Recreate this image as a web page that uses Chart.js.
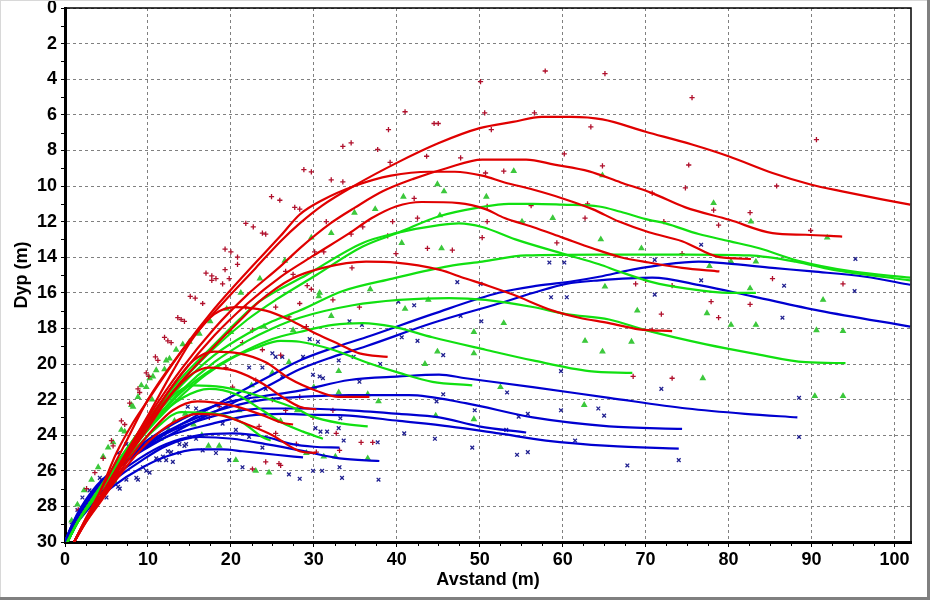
<!DOCTYPE html>
<html><head><meta charset="utf-8">
<script src="https://cdn.jsdelivr.net/npm/chart.js@4.4.1/dist/chart.umd.min.js"></script>
<style>html,body{margin:0;padding:0;background:#fff;}#wrap{width:930px;height:600px;}</style>
</head><body><div id="wrap"><canvas id="c" width="930" height="600"></canvas></div>
<script>
// ---- axis ticks ----
const xTickValues = [0,10,20,30,40,50,60,70,80,90,100];
const yTickValues = [0,2,4,6,8,10,12,14,16,18,20,22,24,26,28,30];
const xTitle = 'Avstand (m)';
const yTitle = 'Dyp (m)';

// ---- red curves ----
const red1 = [[1.1,30],[2.5,28.7],[4.2,27.2],[6.2,25.0],[8.2,23.3],[10.2,21.9],[14.2,19.2],[18.2,17.0],[23,14.6],[26,13.1],[28.3,12.1],[31,11.1],[35,9.95],[40,8.7],[45,7.6],[50,6.75],[54,6.4],[57.5,6.12],[61,6.12],[64.8,6.26],[70,6.95],[75.6,7.67],[80,8.33],[85.3,9.27],[90,9.93],[93.7,10.3],[98.5,10.75],[101.9,11.05]];
const red2 = [[1.1,30],[2.5,28.8],[4.2,27.5],[7,25.3],[10,23.0],[14,20.3],[18,18.0],[22,16.1],[26,14.5],[28.3,13.5],[32,12.1],[35,11.2],[38.3,10.3],[42,9.6],[46,9.0],[50.3,8.52],[55.6,8.52],[59,8.8],[63.2,9.18],[67,9.8],[70.8,10.4],[74.8,11.2],[80.1,11.9],[85.3,12.65],[89.3,12.74],[93.7,12.84]];
const red3 = [[1.1,30],[2.5,28.7],[4.2,27.2],[7,24.7],[10,22.0],[14,19.3],[18,16.9],[22,14.8],[26,12.8],[28.3,11.6],[31,10.8],[34.9,10.0],[39.3,9.42],[44,9.2],[47,9.2],[50.3,9.42],[53,9.8],[56.4,10.2],[60,10.7],[63.6,11.3],[66.8,12.0],[70.4,12.6],[74.4,13.1],[78.9,14.0],[82.7,14.1]];
const red4 = [[1.1,30],[2.5,28.8],[4.2,27.5],[7,25.4],[10,23.2],[14,20.6],[18,18.4],[22,16.6],[26,15.1],[30,13.9],[34.3,12.65],[37,11.8],[39.9,11.15],[43,10.9],[47.5,10.96],[50.7,11.3],[53,11.8],[56.4,12.3],[60,12.9],[63.6,13.5],[67,14.0],[70.4,14.3],[74.4,14.6],[78.9,14.8]];
const red5 = [[1.1,30],[2.5,28.8],[4.2,27.5],[7,25.5],[10,23.4],[14,21.0],[18,19.0],[21,17.6],[23.4,16.5],[27.4,15.2],[31.1,14.6],[36.3,14.25],[39.9,14.3],[45.1,14.7],[48.3,15.2],[51,15.6],[54,16.1],[58.8,17.0],[62,17.4],[65.6,17.7],[69.2,18.05],[73.2,18.15]];
const red6 = [[1.1,30],[2.5,28.8],[4.2,27.5],[7,25.3],[10,22.9],[13,20.4],[15.5,18.5],[18,17.2],[20.6,16.8],[24.2,17.0],[27,17.5],[30.3,18.3],[33.1,18.9],[35.5,19.4],[38.9,19.6]];
const red7 = [[1.1,30],[2.5,28.8],[4.2,27.5],[7,25.4],[10,23.3],[13,21.2],[15.5,19.8],[18,19.3],[21,19.4],[24.2,19.9],[27,20.8],[30.3,21.5],[33,21.85],[36.7,21.85]];
const red8 = [[1.1,30],[2.5,28.8],[4.2,27.6],[7,25.6],[10,23.6],[13,21.6],[15.5,20.5],[17.4,20.2],[20.6,20.4],[23.8,21.1],[26.2,21.85],[28.3,22.4],[30.3,22.55]];
const red9 = [[1.1,30],[2.5,28.9],[4.2,27.7],[7,25.8],[10,24.0],[13,22.6],[16,22.1],[19.8,22.3],[23.4,22.8],[26.2,23.3],[27.5,23.4]];
const red10 = [[1.1,30],[2.5,28.9],[4.2,27.8],[7,26.0],[10,24.4],[13,23.3],[16,22.8],[19,22.9],[22,23.4],[25,24.0],[28.3,24.9],[30.3,25.0]];

// ---- green curves ----
const green1 = [[0.3,30],[1.5,28.9],[3,27.8],[5,26.4],[8,24.4],[11,22.6],[14,21.0],[18,19.1],[22,17.5],[25.4,16.4],[30.3,15.0],[35.9,13.4],[40.3,12.6],[45.1,11.7],[50,11.2],[53.5,11.0],[56.4,11.0],[60,11.05],[64.4,11.15],[67,11.45],[70.4,11.9],[72.4,12.1],[76.4,12.7],[80.1,13.1],[83.7,13.5],[88.4,14.2],[94.9,14.8],[101.9,15.15]];
const green2 = [[0.3,30],[1.5,28.9],[3,27.8],[5,26.4],[8,24.4],[11,22.5],[14,20.8],[18,18.9],[21,17.5],[23.4,16.5],[29.1,15.0],[35.9,13.2],[39.9,12.65],[45.1,12.2],[47.5,12.1],[50.3,12.3],[54.3,13.0],[60,13.8],[64.4,14.4],[66.8,14.8],[70.8,15.4],[74.8,15.75],[80.1,16.0],[83.3,16.0]];
const green3 = [[0.3,30],[1.5,28.9],[3,27.8],[5,26.5],[8,24.6],[11,22.8],[14,21.2],[18,19.5],[22,18.3],[25,17.6],[28.3,17.0],[33.5,15.9],[39.5,15.2],[46.3,14.5],[50.3,14.25],[55.6,13.9],[64.4,13.85],[75,13.85],[82.5,13.9],[88.1,14.25],[92.5,14.7],[101.9,15.3]];
const green4 = [[0.3,30],[1.5,28.9],[3,27.8],[5,26.5],[8,24.7],[11,23.0],[14,21.5],[18,19.9],[22,18.7],[25,18.0],[28.3,17.4],[34.7,16.7],[40.3,16.4],[46.3,16.3],[50.7,16.4],[56.4,16.8],[60.4,17.2],[65.6,17.5],[70,18.1],[77.3,18.9],[82.9,19.4],[89.3,19.9],[94.1,19.95]];
const green5 = [[0.3,30],[1.5,28.9],[3,27.8],[5,26.5],[8,24.7],[11,23.1],[14,21.6],[18,20.2],[22,19.2],[25,18.6],[28.3,18.2],[32.3,17.8],[35.9,17.7],[39.5,17.9],[44.3,18.5],[50.7,19.2],[56.4,19.8],[63.2,20.4],[68.4,20.5]];
const green6 = [[0.3,30],[1.5,28.9],[3,27.8],[5,26.5],[8,24.8],[11,23.2],[14,21.8],[17,20.6],[20,19.7],[23,19.1],[26,18.7],[28.3,18.75],[32.3,19.2],[36.3,19.9],[40.3,20.5],[44.3,21.0],[49.1,21.2]];
const green7 = [[0.3,30],[1.5,28.9],[3,27.8],[5,26.5],[8,24.6],[11,22.8],[13.5,21.6],[15.4,21.2],[19,21.3],[23.8,21.85],[28.3,22.6],[29.5,22.9],[33.5,23.35],[36.5,23.5]];
const green8 = [[0.3,30],[1.5,28.9],[3,27.9],[5,26.6],[8,24.8],[11,23.1],[14.2,21.9],[17.4,21.4],[20.6,21.7],[23.8,22.6],[26.2,23.3],[28.7,23.8],[31.1,24.2]];
const green9 = [[0.3,30],[1.5,28.9],[3,27.9],[5,26.7],[8,25.0],[11,23.6],[14,22.7],[18.2,22.8],[21.4,23.3],[23.8,24.1],[24.8,24.3]];

// ---- blue curves ----
const blue1 = [[0,30],[0.7,29.2],[1.5,28.4],[3.5,27.0],[6,25.9],[8.2,25.1],[12.2,23.9],[16.2,22.8],[20.2,21.8],[24.2,20.8],[28.3,19.8],[32.3,19.1],[36.3,18.5],[44.3,17.2],[52.3,16.0],[57,15.6],[61.2,15.35],[64.4,15.1],[68.4,14.7],[72.4,14.4],[76.4,14.25],[79.7,14.35],[85.3,14.6],[90.1,14.8],[96.5,15.1],[101.9,15.55]];
const blue2 = [[0,30],[0.7,29.2],[1.5,28.5],[3.5,27.1],[6,26.0],[8.2,25.2],[12.2,24.1],[16.2,23.1],[20.2,22.2],[24.2,21.3],[28.3,20.3],[32.3,19.6],[36.3,19.0],[44.3,17.7],[52.3,16.6],[56.5,16.0],[60.4,15.5],[64.4,15.3],[70.8,15.15],[76.8,15.6],[82.9,16.2],[90.9,17.0],[101.9,17.9]];
const blue3 = [[0,30],[0.7,29.2],[1.5,28.5],[3.5,27.1],[6,25.9],[9,24.6],[12.2,23.6],[16,22.7],[20,22.1],[24,21.8],[28.3,21.5],[34.3,20.9],[40.3,20.7],[45.1,20.6],[48.3,20.8],[56.4,21.3],[65.6,21.9],[75,22.5],[82,22.8],[88.3,23.0]];
const blue4 = [[0,30],[0.7,29.25],[1.5,28.5],[3.5,27.1],[6,25.9],[9,24.7],[12.2,23.8],[16,23.0],[20,22.4],[24,22.0],[28.3,21.85],[34.3,21.75],[41.5,21.75],[48.3,22.2],[56.4,23.0],[65.6,23.5],[74.4,23.65]];
const blue5 = [[0,30],[0.7,29.3],[1.5,28.6],[3.5,27.2],[6,26.0],[9,24.9],[12.2,24.1],[17.8,23.35],[22.2,22.9],[26.2,22.8],[29.5,22.85],[34.3,22.9],[40.3,23.2],[46.3,23.5],[52.3,23.9],[58,24.3],[65.6,24.6],[74,24.75]];
const blue6 = [[0,30],[0.7,29.3],[1.5,28.6],[3.5,27.2],[6,26.0],[9,24.8],[12.2,23.9],[16,23.2],[20,22.7],[24,22.5],[28.3,22.5],[34.3,22.6],[40.3,22.8],[45.1,23.0],[49.9,23.5],[55.6,23.85]];
const blue7 = [[0,30],[0.7,29.3],[1.5,28.7],[3.5,27.4],[6,26.3],[9,25.3],[12.2,24.5],[16.2,24.0],[20.2,23.9],[24.2,24.1],[27.4,24.5],[30,24.65],[33.1,24.7]];
const blue8 = [[0,30],[0.7,29.35],[1.5,28.8],[3.5,27.6],[6,26.5],[9,25.5],[12.2,24.6],[16.2,24.1],[20.2,24.2],[24.2,24.5],[28.3,24.85],[33.1,25.3],[37.9,25.45]];
const blue9 = [[0,30],[0.7,29.4],[1.5,28.9],[3.5,27.8],[6,26.8],[9,25.9],[12.2,25.2],[16,24.8],[19,24.8],[21.4,24.9],[25.4,25.1],[28.7,25.25]];

// ---- observed points ----
const redMarks = [[57.9,3.54],[65.1,3.69],[50.1,4.14],[75.6,5.04],[41.0,5.83],[50.6,5.89],[56.6,5.89],[44.5,6.49],[45.0,6.49],[39.0,6.83],[51.4,6.83],[63.4,6.68],[90.6,7.39],[33.5,7.77],[34.5,7.58],[37.7,7.95],[60.2,8.2],[28.8,9.08],[29.7,9.21],[43.6,8.33],[47.7,8.42],[39.2,8.67],[64.8,8.87],[75.2,8.82],[32.1,9.66],[33.5,9.77],[52.9,9.16],[50.7,9.27],[70.8,10.4],[74.8,10.1],[85.8,10.0],[42.1,10.7],[24.9,10.6],[25.9,10.8],[27.7,11.2],[28.3,11.3],[50.9,11.15],[56.2,11.1],[63.0,11.0],[78.2,11.35],[82.6,11.5],[31.5,12.0],[35.9,12.3],[39.5,12.0],[42.5,11.8],[50.9,12.0],[62.7,11.8],[72.2,12.0],[78.8,12.2],[89.9,12.5],[21.8,12.1],[22.7,12.3],[23.8,12.65],[24.2,12.7],[34.5,12.7],[38.9,12.8],[50.3,12.9],[59.3,13.2],[43.7,13.5],[46.7,13.6],[30.1,13.7],[31.2,13.7],[39.9,13.8],[74.4,13.8],[19.3,13.55],[20.0,13.7],[20.8,14.0],[20.8,14.4],[19.3,14.7],[17.0,14.9],[17.7,15.05],[17.7,15.3],[18.2,15.2],[19.0,15.5],[19.8,15.2],[34.6,14.6],[27.5,14.96],[26.6,14.8],[85.3,15.2],[93.8,15.5],[68.8,15.5],[73.2,15.6],[70.0,15.3],[29.7,15.8],[29.2,15.6],[15.1,16.2],[15.7,16.3],[16.6,16.6],[77.9,16.5],[82.6,16.65],[71.9,17.2],[78.8,17.4],[70.8,18.1],[13.6,17.4],[14.0,17.5],[14.4,17.6],[12.0,18.5],[12.4,18.7],[12.8,18.8],[10.9,19.6],[11.2,19.8],[9.8,20.5],[10.1,20.7],[8.8,21.4],[9.0,21.6],[7.8,22.2],[6.8,23.2],[7.2,23.4],[5.6,24.3],[5.8,24.6],[4.6,25.3],[3.6,26.1],[2.6,27.0],[1.6,28.2],[22.6,18.1],[27.0,17.35],[29.1,17.9],[32.3,16.4],[35.5,16.8],[21.8,16.8],[25.4,16.8],[28.3,16.6],[23.8,19.2],[26.0,19.5],[21.4,18.8],[19.4,20.2],[20.2,21.3],[23.0,20.9],[25.0,22.0],[26.6,22.6],[28.3,21.85],[29.9,23.0],[32.3,22.6],[23.4,23.5],[25.4,23.9],[27.9,24.5],[30.3,24.95],[24.2,25.5],[26.0,25.7],[32.7,23.9],[18.6,22.4],[17.4,23.0],[35.7,24.4],[37.1,24.4],[25.8,25.6],[22.6,25.9],[33.1,24.85],[68.5,20.7],[73.2,20.8]];
const greenMarks = [[54.1,9.16],[44.9,9.9],[45.7,10.3],[40.8,10.6],[50.8,10.6],[37.4,11.3],[34.9,11.5],[58.8,11.8],[55.1,12.0],[45.2,11.65],[32.1,12.65],[29.7,12.9],[40.6,13.2],[45.4,13.5],[64.6,13.0],[64.8,9.4],[78.2,10.96],[82.7,12.0],[69.5,13.5],[91.9,12.9],[80.3,14.25],[83.3,14.25],[77.7,14.5],[65.1,15.65],[82.6,15.75],[91.4,16.4],[69.0,17.0],[77.4,17.15],[80.3,17.8],[83.3,17.8],[90.6,18.1],[93.8,18.15],[68.3,18.75],[76.9,20.8],[90.4,21.8],[93.8,21.8],[36.8,15.8],[30.7,16.0],[30.6,16.2],[32.1,17.3],[41.0,16.9],[43.8,16.4],[52.9,17.7],[49.3,18.2],[62.7,18.7],[64.8,19.3],[44.9,19.3],[49.3,19.4],[43.4,20.0],[52.5,21.3],[62.6,22.3],[44.7,22.9],[49.3,23.1],[36.5,21.7],[37.8,22.1],[33.0,21.6],[36.5,25.3],[32.6,25.2],[31.2,25.2],[29.1,25.0],[23.0,26.0],[24.6,26.1],[20.6,25.4],[18.6,24.6],[17.3,24.6],[8.8,21.85],[8.0,22.3],[8.2,22.4],[6.8,23.7],[7.2,23.8],[5.8,24.4],[5.2,24.7],[4.6,25.2],[4.0,25.8],[3.2,26.5],[2.3,27.1],[1.5,27.9],[0.8,28.8],[9.2,21.2],[9.8,21.3],[10.2,20.8],[10.6,20.7],[11.0,20.35],[12.0,20.3],[12.2,19.8],[12.6,19.7],[13.4,19.2],[14.2,18.9],[15.0,18.75],[16.2,18.3],[17.5,17.6],[19.5,16.9],[21.2,16.0],[23.5,15.2],[26.5,14.2],[14.5,22.8],[15.5,23.4],[16.5,24.0],[21.0,22.6],[22.5,21.2],[25.0,20.5],[27.0,19.9],[20.0,18.2],[24.0,17.9],[27.5,18.1],[26.0,23.2],[28.0,22.6],[30.0,21.3],[33.0,20.4],[11.5,24.2],[12.5,23.7],[13.2,23.2],[10.5,22.0],[6.0,26.6],[7.0,25.6]];
const blueMarks = [[76.7,13.3],[95.3,14.1],[71.1,14.15],[86.7,15.6],[95.2,15.9],[76.7,15.3],[71.1,16.1],[86.5,17.4],[71.9,21.4],[88.5,21.9],[60.2,14.3],[58.4,14.3],[47.3,15.4],[50.1,15.5],[58.6,16.25],[60.5,16.25],[40.2,16.5],[42.1,16.7],[47.7,17.3],[50.2,17.6],[34.3,17.6],[35.8,17.8],[40.6,18.5],[42.5,18.7],[29.5,18.6],[30.5,18.75],[45.6,19.5],[33.0,19.8],[34.8,19.6],[59.8,20.4],[29.9,20.6],[30.7,20.7],[31.1,20.8],[45.6,21.7],[53.3,21.6],[44.8,22.1],[49.4,22.6],[59.8,22.6],[64.3,22.5],[54.7,22.96],[55.8,22.8],[53.2,23.7],[33.2,23.05],[33.0,23.6],[40.9,23.9],[44.6,24.2],[49.1,24.7],[54.5,25.1],[55.8,24.95],[30.2,23.6],[30.8,23.8],[31.6,23.8],[37.7,24.4],[33.6,24.3],[29.9,26.0],[31.0,26.0],[33.1,25.8],[33.4,26.4],[37.8,26.5],[88.5,24.1],[67.8,25.7],[74.0,25.4],[61.5,24.3],[65.0,22.9],[11.8,25.2],[12.2,25.4],[13.0,25.5],[13.8,25.0],[9.4,25.8],[9.8,26.0],[10.2,26.1],[8.6,26.4],[8.8,26.5],[7.4,26.5],[6.4,26.9],[6.6,27.0],[5.0,27.5],[4.2,26.4],[4.4,26.5],[2.95,27.1],[2.1,27.5],[1.5,28.2],[0.8,28.9],[7.4,24.5],[7.8,24.7],[6.4,25.0],[11.0,25.3],[11.4,25.4],[12.4,24.9],[12.8,24.95],[13.8,24.5],[14.4,24.6],[15.0,24.1],[15.8,24.2],[14.8,22.4],[15.8,22.5],[17.0,22.8],[19.0,23.35],[20.6,23.7],[22.2,24.1],[23.8,24.7],[14.6,24.5],[16.6,24.85],[18.2,25.0],[19.8,25.4],[21.4,25.8],[27.0,26.2],[28.3,26.45],[22.2,21.7],[24.2,21.4],[26.2,20.7],[28.7,19.6],[25.4,19.6],[25.0,19.4],[26.2,19.6],[22.2,20.2],[23.8,20.2],[35.5,21.0],[38.0,20.0]];

const redLines = [red1,red2,red3,red4,red5,red6,red7,red8,red9,red10];
const greenLines = [green1,green2,green3,green4,green5,green6,green7,green8,green9];
const blueLines = [blue1,blue2,blue3,blue4,blue5,blue6,blue7,blue8,blue9];

const toXY = arr => arr.map(p => ({x:p[0], y:p[1]}));
const lineDs = (arr, color) => ({data:toXY(arr), showLine:true, borderColor:color, backgroundColor:color, borderWidth:2.2, pointRadius:0, cubicInterpolationMode:'monotone', order:0});
const markDs = (arr, style, color, fill) => ({data:toXY(arr), showLine:false, pointStyle:style, pointRadius:2.6, borderWidth:1.3, borderColor:color, backgroundColor:fill, order:1});

const datasets = [];
redLines.forEach(l => datasets.push(lineDs(l,'#e00000')));
greenLines.forEach(l => datasets.push(lineDs(l,'#11e011')));
blueLines.forEach(l => datasets.push(lineDs(l,'#0000d0')));
datasets.push(markDs(redMarks,'cross','#b0102c','#b0102c'));
datasets.push(markDs(greenMarks,'triangle','#3cc83c','#3cc83c'));
datasets.push(markDs(blueMarks,'crossRot','#202090','#202090'));

const FONT = 'Liberation Sans, Arial, sans-serif';

const framePlugin = {
  id:'frame',
  beforeDraw(chart){
    const c = chart.ctx;
    c.save();
    c.fillStyle = '#ffffff';
    c.fillRect(0,0,chart.width,chart.height);
    c.restore();
  },
  afterDraw(chart){
    const c = chart.ctx, a = chart.chartArea, xs = chart.scales.x, ys = chart.scales.y;
    c.save();
    c.strokeStyle = '#000'; c.lineWidth = 1;
    c.beginPath();
    for (let v = 2.5; v < 102; v += 2.5) {
      if (Math.abs(v % 10) < 1e-6) continue;
      const px = Math.round(xs.getPixelForValue(v)) + 0.5;
      c.moveTo(px, a.bottom + 1); c.lineTo(px, a.bottom + 4);
    }
    for (let v = 1; v < 30; v += 2) {
      const py = Math.round(ys.getPixelForValue(v)) + 0.5;
      c.moveTo(a.left - 1, py); c.lineTo(a.left - 4, py);
    }
    c.stroke();
    c.lineWidth = 1.5;
    c.beginPath();
    c.moveTo(a.left, a.top); c.lineTo(a.right, a.top); c.lineTo(a.right, a.bottom);
    c.stroke();
    // window frame
    c.fillStyle = '#808080';
    c.fillRect(chart.width - 3, 0, 3, chart.height);
    c.fillRect(0, chart.height - 3, chart.width, 3);
    c.fillStyle = '#d8d8d8';
    c.fillRect(0, 0, 1, chart.height - 3);
    c.fillRect(0, 0, chart.width - 3, 1);
    c.restore();
  }
};

new Chart(document.getElementById('c'), {
  type:'scatter',
  data:{datasets},
  options:{
    responsive:false, animation:false, devicePixelRatio:1,
    layout:{padding:{left:5,right:19,top:8,bottom:5}},
    plugins:{legend:{display:false}, tooltip:{enabled:false}},
    scales:{
      x:{
        type:'linear', min:0, max:102,
        afterBuildTicks: s => { s.ticks = xTickValues.map(v => ({value:v})); },
        afterFit: s => { s.height = 53; },
        ticks:{stepSize:10, color:'#000', padding:4, font:{family:FONT, size:18, weight:'bold', lineHeight:1}, maxRotation:0, autoSkip:false},
        grid:{color:'#808080', lineWidth:1, drawTicks:true, tickLength:5, tickColor:'#000', tickWidth:1},
        border:{display:true, color:'#000', width:3, dash:[3,3]},
        title:{display:true, text:xTitle, color:'#000', font:{family:FONT, size:18, weight:'bold'}, padding:{top:0,bottom:4}}
      },
      y:{
        type:'linear', min:0, max:30, reverse:true,
        afterBuildTicks: s => { s.ticks = yTickValues.map(v => ({value:v})); },
        afterFit: s => { s.width = 60; },
        ticks:{stepSize:2, color:'#000', padding:4, font:{family:FONT, size:18, weight:'bold', lineHeight:0.4}, autoSkip:false},
        grid:{color:'#808080', lineWidth:1, drawTicks:true, tickLength:4, tickColor:'#000', tickWidth:1},
        border:{display:true, color:'#000', width:3, dash:[3,3]},
        title:{display:true, text:yTitle, color:'#000', font:{family:FONT, size:18, weight:'bold'}, padding:{top:6,bottom:0}}
      }
    }
  },
  plugins:[framePlugin]
});
</script>
</body></html>
